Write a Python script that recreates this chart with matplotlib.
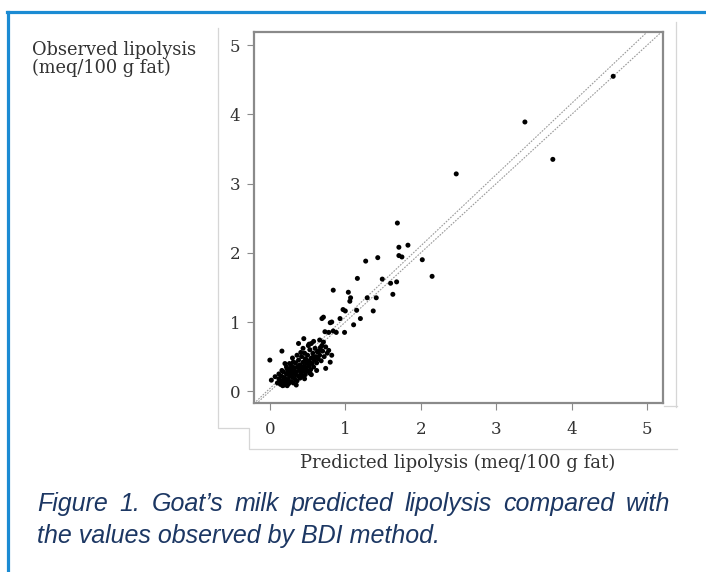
import matplotlib
matplotlib.use("Agg")
import matplotlib.pyplot as plt
from matplotlib.lines import Line2D

# ---- data ----
outlier_x = [4.55, 3.38, 3.75, 2.47, 1.69, 1.71, 1.83, 1.71, 1.75, 1.43, 1.27, 2.02, 2.15,
             1.16, 1.49, 1.60, 1.68, 0.84, 1.04, 1.63, 1.07, 1.06, 1.29, 1.41, 0.97, 1.00,
             1.15, 1.37, 0.71, 0.69, 0.82, 0.93, 1.20, 1.11, 0.00, 0.16, 0.45, 0.80, 0.99,
             0.84, 0.88, 0.73, 0.78, 0.66, 0.71, 0.38, 0.51, 0.55, 0.78, 0.82, 0.80, 0.74,
             0.53, 0.07, 0.02]
outlier_y = [4.55, 3.89, 3.35, 3.14, 2.43, 2.08, 2.11, 1.96, 1.94, 1.93, 1.88, 1.90, 1.66,
             1.63, 1.62, 1.56, 1.58, 1.46, 1.43, 1.40, 1.35, 1.30, 1.35, 1.35, 1.18, 1.16,
             1.17, 1.16, 1.07, 1.05, 1.00, 1.05, 1.05, 0.96, 0.45, 0.58, 0.76, 0.99, 0.85,
             0.87, 0.85, 0.86, 0.85, 0.74, 0.71, 0.69, 0.66, 0.69, 0.59, 0.52, 0.42, 0.33,
             0.26, 0.21, 0.16]
cluster_x = [0.10, 0.12, 0.14, 0.15, 0.17, 0.18, 0.19, 0.20, 0.21, 0.22, 0.23, 0.24, 0.25,
             0.26, 0.27, 0.28, 0.29, 0.30, 0.30, 0.31, 0.32, 0.33, 0.34, 0.34, 0.35, 0.36,
             0.37, 0.38, 0.38, 0.39, 0.40, 0.40, 0.41, 0.42, 0.42, 0.43, 0.44, 0.45, 0.45,
             0.46, 0.47, 0.47, 0.48, 0.49, 0.50, 0.50, 0.51, 0.52, 0.53, 0.54, 0.55, 0.56,
             0.57, 0.58, 0.59, 0.60, 0.61, 0.62, 0.63, 0.64, 0.66, 0.67, 0.68, 0.70, 0.72,
             0.74, 0.76, 0.26, 0.30, 0.22, 0.36, 0.44, 0.52, 0.58, 0.16, 0.20, 0.12, 0.35,
             0.46, 0.55, 0.62, 0.13, 0.18, 0.24, 0.28, 0.33, 0.39, 0.43, 0.48, 0.53, 0.57,
             0.65, 0.69, 0.41, 0.31, 0.27, 0.17, 0.23]
cluster_y = [0.12, 0.18, 0.10, 0.22, 0.15, 0.28, 0.09, 0.19, 0.13, 0.25, 0.32, 0.17, 0.11,
             0.22, 0.29, 0.14, 0.36, 0.20, 0.26, 0.12, 0.31, 0.18, 0.41, 0.24, 0.28, 0.15,
             0.35, 0.22, 0.45, 0.30, 0.19, 0.38, 0.26, 0.50, 0.33, 0.22, 0.42, 0.29, 0.36,
             0.55, 0.24, 0.47, 0.33, 0.40, 0.29, 0.52, 0.44, 0.36, 0.60, 0.31, 0.48, 0.40,
             0.55, 0.35, 0.45, 0.62, 0.50, 0.41, 0.57, 0.47, 0.52, 0.63, 0.44, 0.58, 0.50,
             0.64, 0.55, 0.40, 0.48, 0.35, 0.52, 0.62, 0.68, 0.72, 0.30, 0.40, 0.25, 0.09,
             0.18, 0.24, 0.30, 0.14, 0.20, 0.27, 0.22, 0.34, 0.37, 0.30, 0.45, 0.42, 0.49,
             0.58, 0.66, 0.56, 0.42, 0.33, 0.08, 0.08]
ticks = [0, 1, 2, 3, 4, 5]
tick_labels = ["0", "1", "2", "3", "4", "5"]
line_slopes = [1.0, 1.03]
line_intercepts = [0.0, 0.04]
caption_line1 = "Figure 1. Goat\u2019s milk predicted lipolysis compared with"
caption_line2 = "the values observed by BDI method."

W, H = 706, 572
fig = plt.figure(figsize=(W/100, H/100), dpi=100)
fig.patch.set_facecolor("white")

def fx(px):
    return px / W

def fy(py):
    return 1 - py / H

# faint frame lines of the scanned figure
grey = "#d6d6d6"
fig.add_artist(Line2D([fx(218), fx(218), fx(249), fx(249), fx(677)],
                      [fy(28), fy(428), fy(428), fy(449), fy(449)], color=grey, lw=0.9))
fig.add_artist(Line2D([fx(676), fx(676)], [fy(22), fy(407)], color=grey, lw=0.9))
fig.add_artist(Line2D([fx(664), fx(677)], [fy(406), fy(406)], color=grey, lw=0.9))
# blue frame
blue = "#1b8bd3"
fig.add_artist(Line2D([fx(8), fx(8)], [fy(12), 0], color=blue, lw=2.3))
fig.add_artist(Line2D([fx(7), 1], [fy(12), fy(12)], color=blue, lw=2.3))

ax = fig.add_axes([fx(254), fy(403), (663-254)/W, (403-32)/H])
ax.set_xlim(-0.21, 5.21)
ax.set_ylim(-0.17, 5.19)

xs = [-0.21, 5.21]
for m, b in zip(line_slopes, line_intercepts):
    ax.plot(xs, [m*x + b for x in xs], color="#9a9a9a", lw=0.8, ls=(0, (1.5, 1.2)))

ax.scatter(cluster_x, cluster_y, s=13, color="black", edgecolors="none", zorder=3)
ax.scatter(outlier_x, outlier_y, s=13, color="black", edgecolors="none", zorder=3)

for sp in ax.spines.values():
    sp.set_color("#8a8a8a")
    sp.set_linewidth(1.6)

serif = "DejaVu Serif"
tcol = "#333333"
ax.set_xticks(ticks)
ax.set_xticklabels(tick_labels, fontfamily=serif, fontsize=12, color=tcol)
ax.set_yticks(ticks)
ax.set_yticklabels(tick_labels, fontfamily=serif, fontsize=12, color=tcol)
ax.tick_params(direction="out", length=5, width=0.8, color="#8a8a8a")
ax.tick_params(axis="x", pad=8)
ax.tick_params(axis="y", pad=5)

fig.text(fx(458), fy(463), "Predicted lipolysis (meq/100 g fat)", fontfamily=serif,
         fontsize=13, color=tcol, ha="center", va="center")
fig.text(fx(32), fy(59), "Observed lipolysis\n(meq/100 g fat)", fontfamily=serif,
         fontsize=12.8, color=tcol, ha="left", va="center", linespacing=1.05)

# caption: first line justified between x=37 and x=670
navy = "#1c3763"
cap_kw = dict(fontfamily="Liberation Sans", style="italic", fontsize=18, color=navy,
              va="baseline")
words = caption_line1.split(" ")
fig.canvas.draw()
renderer = fig.canvas.get_renderer()
texts = [fig.text(0, fy(511), w, ha="left", **cap_kw) for w in words]
widths = [t.get_window_extent(renderer).width for t in texts]
x0, x1 = 37, 670
gap = (x1 - x0 - sum(widths)) / (len(words) - 1)
x = x0
for t, wdt in zip(texts, widths):
    t.set_x(fx(x))
    x += wdt + gap
fig.text(fx(37), fy(543), caption_line2, ha="left", **cap_kw)

fig.savefig("out.png", dpi=100)
